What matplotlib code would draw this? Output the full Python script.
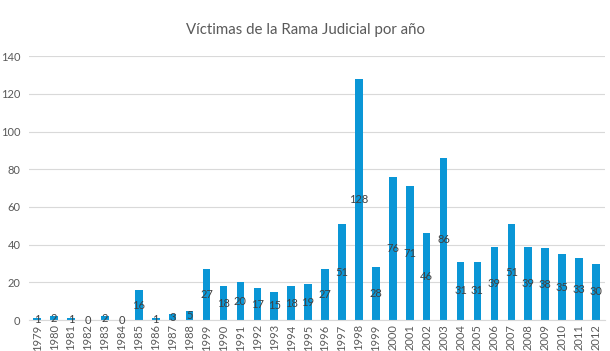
import numpy as np
import matplotlib.pyplot as plt

# Data (the label "1999" appears twice in the original)
years = ['1979', '1980', '1981', '1982', '1983', '1984', '1985', '1986', '1987', '1988',
         '1999', '1990', '1991', '1992', '1993', '1994', '1995', '1996', '1997', '1998',
         '1999', '2000', '2001', '2002', '2003', '2004', '2005', '2006', '2007', '2008',
         '2009', '2010', '2011', '2012']
victims = [1, 2, 1, 0, 2, 0, 16, 1, 3, 5,
           27, 18, 20, 17, 15, 18, 19, 27, 51, 128,
           28, 76, 71, 46, 86, 31, 31, 39, 51, 39,
           38, 35, 33, 30]

plt.rcParams['font.family'] = ['Lato', 'DejaVu Sans']

fig = plt.figure(figsize=(6.1, 3.51), dpi=100)
ax = fig.add_axes([0.047, 0.088, 0.944, 0.752])

x = np.arange(len(years))
bars = ax.bar(x, victims, width=0.45, color='#0A96D6', zorder=2)
ax.bar_label(bars, labels=[str(v) for v in victims], label_type='center',
             color='#404040', fontsize=8)

ax.set_xlim(-0.5, len(years) - 0.5)
ax.set_ylim(0, 140)
ax.set_yticks(range(0, 141, 20))
ax.set_xticks(x)
ax.set_xticklabels(years, rotation=90, fontsize=8, color='#595959')
ax.tick_params(axis='y', labelsize=8, labelcolor='#595959', length=0, pad=6)
ax.tick_params(axis='x', length=0, pad=3)
ax.grid(axis='y', color='#D9D9D9', linewidth=0.8, zorder=0)

for side in ['top', 'right', 'left']:
    ax.spines[side].set_visible(False)
ax.spines['bottom'].set_color('#D9D9D9')

fig.suptitle('Víctimas de la Rama Judicial por año', x=0.5, y=0.935,
             fontsize=10.8, color='#595959')

fig.savefig('out.png', dpi=100)
